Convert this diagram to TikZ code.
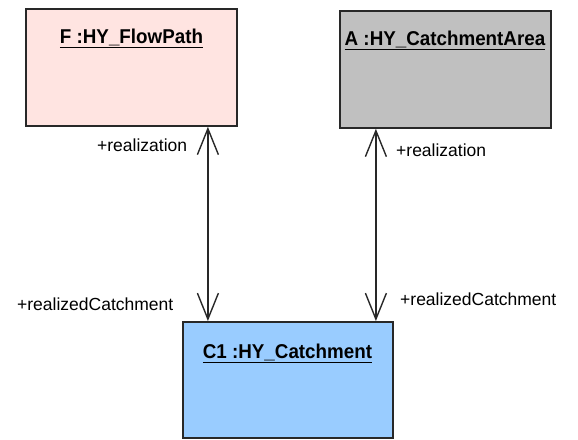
\documentclass[tikz,border=0pt]{standalone}
\usepackage{fontspec}
\setmainfont{Liberation Sans}
\usetikzlibrary{arrows.meta}
\definecolor{pinkfill}{RGB}{255,228,225}
\definecolor{greyfill}{RGB}{192,192,192}
\definecolor{bluefill}{RGB}{153,204,255}
\definecolor{edge}{RGB}{40,40,40}
\tikzset{
  objbox/.style={draw=edge, line width=1.8pt, minimum width=211pt, minimum height=117pt, anchor=north west, inner sep=0pt},
  title/.style={anchor=base, inner sep=0pt, font=\fontsize{20}{22}\selectfont\bfseries},
  role/.style={anchor=base west, inner sep=0pt, font=\fontsize{17.5}{20}\selectfont},
  assoc/.style={draw=edge, line width=1.4pt, {Straight Barb[length=26pt,width=21pt,line width=1.4pt]}-{Straight Barb[length=26pt,width=21pt,line width=1.4pt]}}
}
\begin{document}
\begin{tikzpicture}[x=1pt,y=1pt]
\useasboundingbox (0,0) rectangle (578,-439);
\node[objbox, fill=pinkfill] (F) at (25,-8) {};
\node[objbox, fill=greyfill] (A) at (339,-10) {};
\node[objbox, fill=bluefill, minimum width=210pt, minimum height=116pt] (C1) at (182,-321) {};
\node[title] (tF) at (131.5,-43) {\scalebox{0.94}[1]{\underline{F :HY\_FlowPath}}};
\node[title] (tA) at (445,-45) {\scalebox{0.94}[1]{\underline{A :HY\_CatchmentArea}}};
\node[title] (tC) at (287.5,-358) {\scalebox{0.94}[1]{\underline{C1 :HY\_Catchment}}};
\draw[assoc] ([xshift=76.5pt]F.south) -- ([xshift=-80pt]C1.north);
\draw[assoc] ([xshift=-69.5pt]A.south) -- ([xshift=88pt]C1.north);
\node[role] (r1) at (97,-151) {+realization};
\node[role] (r2) at (396,-156) {+realization};
\node[role] (r3) at (17,-310) {+realizedCatchment};
\node[role] (r4) at (400,-305) {+realizedCatchment};
\end{tikzpicture}
\end{document}
